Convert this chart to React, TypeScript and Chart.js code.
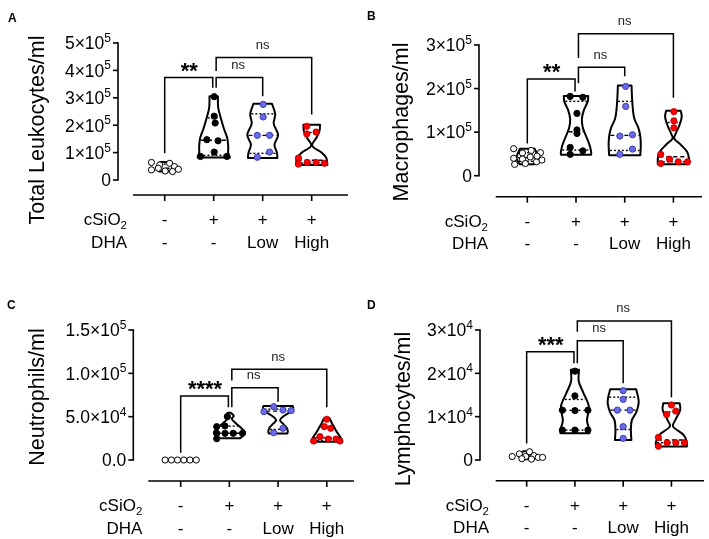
import { useEffect, useRef } from "react";
import { Chart, registerables } from "chart.js";

Chart.register(...registerables);

const FONT = '"Liberation Sans", Arial, Helvetica, sans-serif';
const W = 709;
const H = 539;

// ---------- shared category rows ----------
const cSiO2Labels = ["-", "+", "+", "+"];
const dhaLabels = ["-", "-", "Low", "High"];

// ---------- Panel A : Total Leukocytes/ml ----------
const aTickValues = [0, 1e5, 2e5, 3e5, 4e5, 5e5];
const aTickBase = ["0", "1×10", "2×10", "3×10", "4×10", "5×10"];
const aTickExp = ["", "5", "5", "5", "5", "5"];
const aCtrlValues = [64000, 55000, 61000, 49000, 37000, 43000, 33000, 31000, 39000];
const aCtrlOffsets = [-0.27, -0.1, 0.1, 0.2, -0.27, -0.13, 0.01, 0.16, 0.28];
const aCtrlViolin = [[66000, 0.1], [55000, 0.13], [45000, 0.15], [35000, 0.13], [31000, 0.11]];
const aSilicaValues = [304000, 233000, 208000, 147000, 143000, 102000, 86000, 86000];
const aSilicaOffsets = [0.01, 0.01, 0.03, -0.14, 0.09, 0.01, -0.27, 0.27];
const aSilicaViolin = [[306000, 0.086], [264000, 0.092], [227000, 0.143], [190000, 0.204], [153000, 0.276], [123000, 0.296], [98000, 0.296], [82000, 0.327]];
const aLowValues = [276000, 230000, 163000, 163000, 102000, 83000];
const aLowOffsets = [0.01, 0.01, -0.11, 0.14, 0.14, -0.11];
const aLowViolin = [[278000, 0.19], [240000, 0.255], [205000, 0.225], [165000, 0.315], [130000, 0.24], [100000, 0.29], [80000, 0.3]];
const aHighValues = [196000, 168000, 175000, 80000, 58000, 64000, 64000, 61000];
const aHighOffsets = [-0.1, -0.1, 0.09, -0.27, -0.27, -0.09, 0.09, 0.26];
const aHighViolin = [[202000, 0.17], [180000, 0.16], [155000, 0.1], [125000, 0.01], [100000, 0.2], [80000, 0.3], [55000, 0.32]];
const aBrackets = [[0, 1, 374000, 98000, 337000, "**"], [1, 2, 374000, 337000, 306000, "ns"], [1, 3, 447000, 398000, 239000, "ns"]];

// ---------- Panel B : Macrophages/ml ----------
const bTickValues = [0, 1e5, 2e5, 3e5];
const bTickBase = ["0", "1×10", "2×10", "3×10"];
const bTickExp = ["", "5", "5", "5"];
const bCtrlValues = [62000, 52000, 58000, 53000, 40000, 38000, 43000, 32000, 36000, 26000, 28000, 45000];
const bCtrlOffsets = [-0.28, -0.1, 0.08, 0.27, -0.28, -0.1, 0.06, 0.19, 0.3, -0.26, -0.04, 0.2];
const bCtrlViolin = [[62000, 0.15], [50000, 0.2], [40000, 0.22], [30000, 0.18], [26000, 0.15]];
const bSilicaValues = [182000, 180000, 143000, 105000, 97000, 65000, 57000, 49000];
const bSilicaOffsets = [-0.12, 0.14, 0.02, 0.02, 0.02, -0.12, 0.14, -0.12];
const bSilicaViolin = [[183000, 0.25], [170000, 0.24], [150000, 0.16], [130000, 0.12], [110000, 0.14], [90000, 0.21], [70000, 0.28], [55000, 0.31], [48000, 0.31]];
const bLowValues = [205000, 159000, 91000, 94000, 61000, 49000];
const bLowOffsets = [0.02, 0.02, -0.1, 0.16, 0.16, -0.1];
const bLowViolin = [[207000, 0.14], [180000, 0.15], [150000, 0.17], [130000, 0.2], [110000, 0.28], [90000, 0.32], [70000, 0.33], [47000, 0.32]];
const bHighValues = [147000, 126000, 110000, 49000, 38000, 28000, 32000, 32000];
const bHighOffsets = [0.01, 0.01, 0.01, -0.26, -0.08, -0.26, 0.1, 0.29];
const bHighViolin = [[149000, 0.15], [135000, 0.17], [115000, 0.12], [95000, 0.04], [85000, 0.02], [70000, 0.16], [55000, 0.28], [40000, 0.32], [26000, 0.32]];
const bBrackets = [[0, 1, 222000, 74000, 193000, "**"], [1, 2, 249000, 212000, 228000, "ns"], [1, 3, 326000, 270000, 179000, "ns"]];

// ---------- Panel C : Neutrophils/ml ----------
const cTickValues = [0, 5e4, 1e5, 1.5e5];
const cTickBase = ["0.0", "5.0×10", "1.0×10", "1.5×10"];
const cTickExp = ["", "4", "5", "5"];
const cCtrlValues = [0, 0, 0, 0, 0, 0];
const cCtrlOffsets = [-0.32, -0.19, -0.065, 0.065, 0.19, 0.32];
const cCtrlViolin: number[][] = [];
const cSilicaValues = [50000, 39300, 38500, 30800, 24600, 30800, 30800, 30800];
const cSilicaOffsets = [-0.04, -0.09, -0.26, -0.26, -0.26, -0.09, 0.08, 0.27];
const cSilicaViolin = [[54500, 0.03], [51000, 0.09], [47500, 0.05], [43000, 0.12], [37000, 0.24], [32000, 0.32], [28000, 0.28], [25000, 0.22]];
const cLowValues = [55800, 61500, 57700, 57000, 31500, 36600];
const cLowOffsets = [-0.29, -0.09, 0.1, 0.27, -0.09, 0.1];
const cLowViolin = [[62400, 0.3], [59000, 0.31], [55000, 0.24], [50000, 0.1], [46000, 0.04], [42000, 0.1], [37000, 0.18], [33000, 0.2], [30500, 0.19]];
const cHighValues = [47000, 38500, 36600, 26900, 24200, 24200, 21900, 21900];
const cHighOffsets = [0, -0.05, 0.08, -0.14, 0.03, 0.19, -0.27, 0.27];
const cHighViolin = [[48000, 0.06], [43000, 0.1], [38000, 0.15], [33000, 0.2], [28000, 0.26], [24000, 0.3], [21000, 0.31]];
const cBrackets = [[0, 1, 73900, 8400, 60800, "****"], [1, 2, 83500, 60800, 67300, "ns"], [1, 3, 104700, 91600, 60800, "ns"]];

// ---------- Panel D : Lymphocytes/ml ----------
const dTickValues = [0, 1e4, 2e4, 3e4];
const dTickBase = ["0", "1×10", "2×10", "3×10"];
const dTickExp = ["", "4", "4", "4"];
const dCtrlValues = [800, 1400, 800, 1900, 1000, 600, 600, 300, 200];
const dCtrlOffsets = [-0.3, -0.15, -0.02, 0.06, 0.15, 0.24, 0.33, -0.1, 0.1];
const dCtrlViolin = [[2000, 0.07], [1500, 0.12], [1000, 0.16], [500, 0.14], [200, 0.1]];
const dSilicaValues = [20500, 14800, 11500, 11400, 11500, 6900, 6900, 6900];
const dSilicaOffsets = [0, 0, -0.26, 0, 0.27, -0.26, 0, 0.27];
const dSilicaViolin = [[20800, 0.085], [18100, 0.08], [15400, 0.18], [12300, 0.29], [9200, 0.25], [7000, 0.3], [6200, 0.3]];
const dLowValues = [16000, 14000, 11500, 11500, 7700, 5000];
const dLowOffsets = [0, 0, -0.12, 0.14, 0, 0];
const dLowViolin = [[16300, 0.27], [14500, 0.31], [13000, 0.32], [11000, 0.27], [9200, 0.18], [7000, 0.16], [4600, 0.17]];
const dHighValues = [12700, 10500, 11300, 5200, 3200, 4000, 4000, 4000];
const dHighOffsets = [0, -0.1, 0.09, -0.27, -0.27, -0.09, 0.09, 0.27];
const dHighViolin = [[13100, 0.17], [11500, 0.18], [9200, 0.08], [7700, 0.035], [5800, 0.25], [4200, 0.32], [3100, 0.32]];
const dBrackets = [[0, 1, 25000, 3800, 22300, "***"], [1, 2, 27500, 22300, 17700, "ns"], [1, 3, 32100, 29600, 14500, "ns"]];

// ---------- styles ----------
const groupFills = ["#ffffff", "#000000", "#6b6be8", "#ff0000"];
const groupStrokes = ["#000000", "#000000", "#3c3cb4", "#c00000"];

type Group = { values: number[]; offsets: number[]; violin: number[][] };
type PanelCfg = {
  letter: string; letterX: number; letterY: number;
  title: string; titleX: number; titleY: number;
  left: number; right: number; top: number; bottom: number;
  xMin: number; xMax: number; yMax: number;
  ticks: number[]; tickBase: string[]; tickExp: string[];
  groups: Group[]; brackets: (number | string)[][];
  axisGap: number; axisStart: number;
};

const panels: PanelCfg[] = [
  {
    letter: "A", letterX: 8, letterY: 22, title: "Total Leukocytes/ml", titleX: 38.3, titleY: 130,
    left: 118, right: 348, top: 43, bottom: 180, xMin: -0.953, xMax: 3.741, yMax: 5e5,
    ticks: aTickValues, tickBase: aTickBase, tickExp: aTickExp,
    groups: [
      { values: aCtrlValues, offsets: aCtrlOffsets, violin: aCtrlViolin },
      { values: aSilicaValues, offsets: aSilicaOffsets, violin: aSilicaViolin },
      { values: aLowValues, offsets: aLowOffsets, violin: aLowViolin },
      { values: aHighValues, offsets: aHighOffsets, violin: aHighViolin },
    ],
    brackets: aBrackets, axisGap: 15, axisStart: 15,
  },
  {
    letter: "B", letterX: 367, letterY: 20, title: "Macrophages/ml", titleX: 402.3, titleY: 122,
    left: 479, right: 702, top: 45, bottom: 175.7, xMin: -0.992, xMax: 3.587, yMax: 3e5,
    ticks: bTickValues, tickBase: bTickBase, tickExp: bTickExp,
    groups: [
      { values: bCtrlValues, offsets: bCtrlOffsets, violin: bCtrlViolin },
      { values: bSilicaValues, offsets: bSilicaOffsets, violin: bSilicaViolin },
      { values: bLowValues, offsets: bLowOffsets, violin: bLowViolin },
      { values: bHighValues, offsets: bHighOffsets, violin: bHighViolin },
    ],
    brackets: bBrackets, axisGap: 21, axisStart: 16.7,
  },
  {
    letter: "C", letterX: 7, letterY: 309, title: "Neutrophils/ml", titleX: 38.3, titleY: 397,
    left: 133.3, right: 354, top: 330, bottom: 460, xMin: -0.973, xMax: 3.559, yMax: 1.5e5,
    ticks: cTickValues, tickBase: cTickBase, tickExp: cTickExp,
    groups: [
      { values: cCtrlValues, offsets: cCtrlOffsets, violin: cCtrlViolin },
      { values: cSilicaValues, offsets: cSilicaOffsets, violin: cSilicaViolin },
      { values: cLowValues, offsets: cLowOffsets, violin: cLowViolin },
      { values: cHighValues, offsets: cHighOffsets, violin: cHighViolin },
    ],
    brackets: cBrackets, axisGap: 21, axisStart: 15,
  },
  {
    letter: "D", letterX: 367, letterY: 309, title: "Lymphocytes/ml", titleX: 404, titleY: 409,
    left: 480, right: 707, top: 330, bottom: 460, xMin: -0.967, xMax: 3.675, yMax: 3e4,
    ticks: dTickValues, tickBase: dTickBase, tickExp: dTickExp,
    groups: [
      { values: dCtrlValues, offsets: dCtrlOffsets, violin: dCtrlViolin },
      { values: dSilicaValues, offsets: dSilicaOffsets, violin: dSilicaViolin },
      { values: dLowValues, offsets: dLowOffsets, violin: dLowViolin },
      { values: dHighValues, offsets: dHighOffsets, violin: dHighViolin },
    ],
    brackets: dBrackets, axisGap: 20.7, axisStart: 15.7,
  },
];

function quantile(sorted: number[], p: number) {
  const n = sorted.length;
  const pos = p * (n + 1);
  if (pos <= 1) return sorted[0];
  if (pos >= n) return sorted[n - 1];
  const lo = Math.floor(pos);
  return sorted[lo - 1] + (pos - lo) * (sorted[lo] - sorted[lo - 1]);
}

function widthAt(prof: number[][], v: number) {
  if (v >= prof[0][0]) return prof[0][1];
  for (let i = 0; i < prof.length - 1; i++) {
    const [v1, w1] = prof[i];
    const [v2, w2] = prof[i + 1];
    if (v <= v1 && v >= v2) return w1 + ((v1 - v) / (v1 - v2)) * (w2 - w1);
  }
  return prof[prof.length - 1][1];
}

type P = { x: number; y: number };
function curveThrough(ctx: CanvasRenderingContext2D, pts: P[]) {
  for (let i = 0; i < pts.length - 1; i++) {
    const p0 = pts[i - 1] || pts[i];
    const p1 = pts[i];
    const p2 = pts[i + 1];
    const p3 = pts[i + 2] || p2;
    const t = 1 / 6;
    ctx.bezierCurveTo(
      p1.x + (p2.x - p0.x) * t, p1.y + (p2.y - p0.y) * t,
      p2.x - (p3.x - p1.x) * t, p2.y - (p3.y - p1.y) * t,
      p2.x, p2.y
    );
  }
}

function textCenteredV(ctx: CanvasRenderingContext2D, text: string, x: number, yc: number) {
  const m = ctx.measureText(text);
  const asc = m.actualBoundingBoxAscent;
  const desc = m.actualBoundingBoxDescent;
  ctx.textBaseline = "alphabetic";
  ctx.fillText(text, x, yc + (asc - desc) / 2);
}

function makePlugin(p: PanelCfg) {
  return {
    id: "panel" + p.letter,
    beforeDatasetsDraw(chart: any) {
      const { ctx } = chart;
      const x = chart.scales.x;
      const y = chart.scales.y;
      const unit = x.getPixelForValue(1) - x.getPixelForValue(0);
      p.groups.forEach((g, gi) => {
        if (g.violin.length < 2) return;
        const cx = x.getPixelForValue(gi);
        const right = g.violin.map(([v, w]) => ({ x: cx + w * unit, y: y.getPixelForValue(v) }));
        const left = g.violin.map(([v, w]) => ({ x: cx - w * unit, y: y.getPixelForValue(v) })).reverse();
        ctx.save();
        ctx.beginPath();
        ctx.moveTo(left[left.length - 1].x, left[left.length - 1].y);
        ctx.lineTo(right[0].x, right[0].y);
        curveThrough(ctx, right);
        ctx.lineTo(left[0].x, left[0].y);
        curveThrough(ctx, left);
        ctx.closePath();
        ctx.fillStyle = "#ffffff";
        ctx.fill();
        ctx.lineWidth = 2;
        ctx.lineJoin = "round";
        ctx.strokeStyle = "#000";
        ctx.stroke();
        const s = [...g.values].sort((a, b) => a - b);
        const lines: [number, number[]][] = [
          [quantile(s, 0.5), [4, 3]],
          [quantile(s, 0.25), [2, 2]],
          [quantile(s, 0.75), [2, 2]],
        ];
        ctx.lineWidth = 1.4;
        for (const [v, dash] of lines) {
          const hw = widthAt(g.violin, v) * unit - 1;
          const py = y.getPixelForValue(v);
          ctx.setLineDash(dash);
          ctx.beginPath();
          ctx.moveTo(cx - hw, py);
          ctx.lineTo(cx + hw, py);
          ctx.stroke();
        }
        ctx.setLineDash([]);
        ctx.restore();
      });
    },
    afterDatasetsDraw(chart: any) {
      const { ctx } = chart;
      const x = chart.scales.x;
      const y = chart.scales.y;
      const area = chart.chartArea;
      ctx.save();
      ctx.fillStyle = "#000";
      ctx.strokeStyle = "#000";

      // panel letter
      ctx.font = `bold 12px ${FONT}`;
      ctx.textAlign = "left";
      ctx.textBaseline = "alphabetic";
      ctx.fillText(p.letter, p.letterX, p.letterY);

      // y title
      ctx.save();
      ctx.font = `21.5px ${FONT}`;
      ctx.translate(p.titleX, p.titleY);
      ctx.rotate(-Math.PI / 2);
      ctx.textAlign = "center";
      const tm = ctx.measureText(p.title);
      ctx.textBaseline = "alphabetic";
      ctx.fillText(p.title, 0, (tm.actualBoundingBoxAscent - tm.actualBoundingBoxDescent) / 2);
      ctx.restore();

      // y axis
      const ax = area.left;
      ctx.lineWidth = 1.6;
      ctx.beginPath();
      ctx.moveTo(ax, y.getPixelForValue(p.yMax) - 0.8);
      ctx.lineTo(ax, y.getPixelForValue(0) + 0.8);
      ctx.stroke();
      p.ticks.forEach((t, i) => {
        const ty = y.getPixelForValue(t);
        ctx.beginPath();
        ctx.moveTo(ax - 5, ty);
        ctx.lineTo(ax, ty);
        ctx.stroke();
        const base = p.tickBase[i];
        const exp = p.tickExp[i];
        ctx.font = `17.5px ${FONT}`;
        const bw = ctx.measureText(base).width;
        ctx.font = `12px ${FONT}`;
        const ew = exp ? ctx.measureText(exp).width : 0;
        const x0 = ax - 7 - bw - ew;
        ctx.textAlign = "left";
        ctx.textBaseline = "alphabetic";
        ctx.font = `17.5px ${FONT}`;
        ctx.fillText(base, x0, ty + 6.3);
        if (exp) {
          ctx.font = `12px ${FONT}`;
          ctx.fillText(exp, x0 + bw, ty - 1);
        }
      });

      // x axis
      const xy = area.bottom + p.axisGap;
      ctx.beginPath();
      ctx.moveTo(area.left + p.axisStart, xy);
      ctx.lineTo(area.right, xy);
      ctx.stroke();
      for (let i = 0; i < 4; i++) {
        const cx = x.getPixelForValue(i);
        ctx.beginPath();
        ctx.moveTo(cx, xy);
        ctx.lineTo(cx, xy + 6);
        ctx.stroke();
      }

      // row labels
      const r1 = xy + 24 + 6.1;
      const r2 = xy + 46.5 + 6.1;
      ctx.font = `17px ${FONT}`;
      ctx.textBaseline = "alphabetic";
      ctx.font = `11.5px ${FONT}`;
      const subW = ctx.measureText("2").width;
      ctx.font = `17px ${FONT}`;
      ctx.textAlign = "right";
      ctx.fillText("cSiO", ax + 9 - subW, r1);
      ctx.font = `11.5px ${FONT}`;
      ctx.textAlign = "left";
      ctx.fillText("2", ax + 9 - subW, r1 + 4);
      ctx.font = `17px ${FONT}`;
      ctx.textAlign = "right";
      ctx.fillText("DHA", ax + 9, r2);
      ctx.textAlign = "center";
      for (let i = 0; i < 4; i++) {
        const cx = x.getPixelForValue(i);
        ctx.fillText(cSiO2Labels[i], cx, r1);
        ctx.fillText(dhaLabels[i], cx, r2);
      }

      // significance brackets
      ctx.lineWidth = 1.5;
      for (const br of p.brackets) {
        const from = br[0] as number;
        const to = br[1] as number;
        const yv = br[2] as number;
        const lb = br[3] as number;
        const rb = br[4] as number;
        const label = br[5] as string;
        const x1 = x.getPixelForValue(from + (from === 1 ? 0.05 : 0));
        const x2 = x.getPixelForValue(to - (to === 1 ? 0.02 : 0));
        const yl = y.getPixelForValue(yv);
        ctx.beginPath();
        ctx.moveTo(x1, y.getPixelForValue(lb));
        ctx.lineTo(x1, yl);
        ctx.lineTo(x2, yl);
        ctx.lineTo(x2, y.getPixelForValue(rb));
        ctx.stroke();
        const mx = (x.getPixelForValue(from) + x.getPixelForValue(to)) / 2;
        ctx.textAlign = "center";
        if (label === "ns") {
          ctx.font = `13px ${FONT}`;
          ctx.fillStyle = "#222";
          textCenteredV(ctx, label, mx, yl - 12);
        } else {
          ctx.font = `bold 22px ${FONT}`;
          ctx.fillStyle = "#000";
          textCenteredV(ctx, label, mx, yl - 10);
        }
        ctx.fillStyle = "#000";
      }
      ctx.restore();
    },
  };
}

function Panel({ cfg }: { cfg: PanelCfg }) {
  const ref = useRef<HTMLCanvasElement>(null);
  useEffect(() => {
    const canvas = ref.current;
    if (!canvas) return;
    const chart = new Chart(canvas, {
      type: "scatter",
      data: {
        datasets: cfg.groups.map((g, gi) => ({
          data: g.values.map((v, i) => ({ x: gi + g.offsets[i], y: v })),
          backgroundColor: groupFills[gi],
          borderColor: groupStrokes[gi],
          borderWidth: 1,
          pointRadius: 3.1,
          clip: false as any,
        })),
      },
      options: {
        responsive: false,
        animation: false,
        devicePixelRatio: 1,
        events: [],
        layout: {
          padding: { left: cfg.left, top: cfg.top, right: W - cfg.right, bottom: H - cfg.bottom },
        },
        plugins: { legend: { display: false }, tooltip: { enabled: false } },
        scales: {
          x: { type: "linear", min: cfg.xMin, max: cfg.xMax, display: false },
          y: { type: "linear", min: 0, max: cfg.yMax, display: false },
        },
      },
      plugins: [makePlugin(cfg)],
    });
    return () => chart.destroy();
  }, [cfg]);
  return (
    <canvas
      ref={ref}
      width={W}
      height={H}
      style={{ position: "absolute", left: 0, top: 0, width: W, height: H }}
    />
  );
}

export default function App() {
  return (
    <div style={{ position: "fixed", left: 0, top: 0, width: W, height: H, background: "#fff" }}>
      {panels.map((p) => (
        <Panel key={p.letter} cfg={p} />
      ))}
    </div>
  );
}
